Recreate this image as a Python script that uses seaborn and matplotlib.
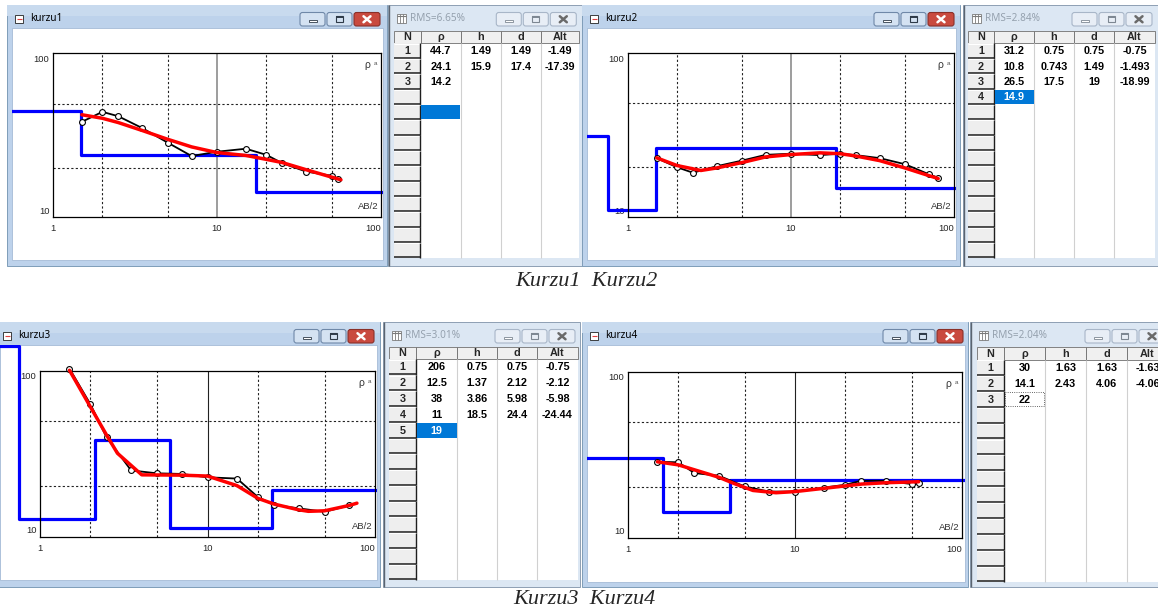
import numpy as np
import pandas as pd
import matplotlib.pyplot as plt
import seaborn as sns
from matplotlib.patches import Rectangle, FancyBboxPatch
from matplotlib.transforms import Bbox, TransformedBbox
from matplotlib.ticker import NullFormatter

# Kurzu1 : olculen (AB/2, rho_a), model egrisi ve katman parametreleri
k1_ab = [1.5, 2, 2.5, 3.5, 5, 7, 10, 15, 20, 25, 35, 50, 55]
k1_rho_a = [38.5, 44.4, 41.7, 35.2, 28.6, 23.6, 25.1, 26.2, 24.0, 21.3, 18.9, 17.8, 16.9]
k1_ab_fit = [1.5, 2, 2.5, 3.5, 5, 7, 10, 15, 20, 25, 35, 57]
k1_rho_fit = [42.6, 40.5, 38.1, 34.0, 30.0, 26.9, 24.8, 23.8, 22.5, 21.5, 19.4, 16.8]
k1_rho = [44.7, 24.1, 14.2]
k1_h = [1.49, 15.9]
k1_d = [1.49, 17.4]
k1_alt = [-1.49, -17.39]

# Kurzu2
k2_ab = [1.5, 2, 2.5, 3.5, 5, 7, 10, 15, 20, 25, 35, 50, 70, 80]
k2_rho_a = [22.8, 20.0, 18.5, 20.3, 22.0, 23.9, 24.3, 23.8, 24.3, 23.8, 22.8, 20.9, 18.1, 17.2]
k2_ab_fit = [1.5, 2, 2.8, 3.5, 5, 7, 10, 15, 20, 25, 35, 50, 80]
k2_rho_fit = [22.9, 20.5, 19.1, 19.8, 21.4, 23.2, 24.0, 24.6, 24.3, 23.5, 22.0, 19.8, 17.0]
k2_rho = [31.2, 10.8, 26.5, 14.9]
k2_h = [0.75, 0.743, 17.5]
k2_d = [0.75, 1.49, 19]
k2_alt = [-0.75, -1.493, -18.99]

# Kurzu3
k3_ab = [1.5, 2, 2.5, 3.5, 5, 7, 10, 15, 20, 25, 35, 50, 70]
k3_rho_a = [104.5, 63.2, 39.6, 24.9, 23.9, 23.7, 22.6, 22.2, 17.1, 15.3, 14.6, 13.9, 15.2]
k3_ab_fit = [1.5, 2, 2.5, 2.9, 4.05, 7, 10, 15, 20, 25, 35, 40, 50, 70, 78]
k3_rho_fit = [102, 60.9, 40.9, 31.7, 23.4, 23.3, 23.0, 20.1, 16.8, 15.5, 14.3, 14.0, 14.1, 15.2, 15.7]
k3_rho = [206, 12.5, 38, 11, 19]
k3_h = [0.75, 1.37, 3.86, 18.5]
k3_d = [0.75, 2.12, 5.98, 24.4]
k3_alt = [-0.75, -2.12, -5.98, -24.44]

# Kurzu4
k4_ab = [1.5, 2, 2.5, 3.5, 5, 7, 10, 15, 20, 25, 35, 50, 55]
k4_rho_a = [28.6, 28.4, 24.4, 23.5, 20.2, 18.8, 18.8, 19.9, 20.7, 21.9, 21.9, 20.9, 21.1]
k4_ab_fit = [1.5, 2, 3.5, 4.3, 5.6, 7.7, 10, 15, 25, 35, 55]
k4_rho_fit = [28.6, 27.4, 23.0, 21.1, 19.1, 18.5, 18.8, 19.7, 20.9, 21.3, 21.6]
k4_rho = [30, 14.1, 22]
k4_h = [1.63, 2.43]
k4_d = [1.63, 4.06]
k4_alt = [-1.63, -4.06]

names = ["kurzu1", "kurzu2", "kurzu3", "kurzu4"]
rms = ["6.65", "2.84", "3.01", "2.04"]
data = [
    (k1_ab, k1_rho_a, k1_ab_fit, k1_rho_fit, k1_rho, k1_h, k1_d, k1_alt),
    (k2_ab, k2_rho_a, k2_ab_fit, k2_rho_fit, k2_rho, k2_h, k2_d, k2_alt),
    (k3_ab, k3_rho_a, k3_ab_fit, k3_rho_fit, k3_rho, k3_h, k3_d, k3_alt),
    (k4_ab, k4_rho_a, k4_ab_fit, k4_rho_fit, k4_rho, k4_h, k4_d, k4_alt),
]
captions = ["Kurzu1  Kurzu2", "Kurzu3  Kurzu4"]

# pencere yerlesimi (piksel)
layout = [
    dict(win=(7, 5, 387, 266), client=(11.7, 28.3, 383, 260), ax=(53, 53, 381, 217),
         ylim=(9.87, 103), btn=380, tab=(388, 5, 583, 266),
         cols=[394, 420.7, 460.7, 500.7, 540.7, 579.3], head=30.7, tbot=258, sel=(4, "fill")),
    dict(win=(582, 5, 960, 266), client=(587, 28.3, 956, 260), ax=(628, 53, 954, 217),
         ylim=(9.8, 103), btn=954, tab=(963, 5, 1162, 266),
         cols=[968, 994, 1034, 1074, 1114, 1155], head=30.7, tbot=258, sel=(3, "fill")),
    dict(win=(-5, 322, 380, 587), client=(0, 345, 377, 580), ax=(40, 371, 375, 537),
         ylim=(9.75, 101), btn=374, tab=(383, 322, 580, 587),
         cols=[389, 416, 457, 497, 537, 578], head=346.7, tbot=580, sel=(4, "fill")),
    dict(win=(582, 322, 968, 587), client=(587, 345, 965, 582), ax=(628, 372, 962, 538),
         ylim=(9.78, 101.3), btn=963, tab=(970, 322, 1170, 587),
         cols=[977, 1004, 1045, 1086, 1127, 1168], head=347, tbot=582, sel=(2, "focus")),
]

sns.set_style("white")
plt.rcParams["font.family"] = ["Liberation Sans", "DejaVu Sans"]

W, H = 1158, 613
fig = plt.figure(figsize=(W / 100, H / 100), dpi=100)
bg = fig.add_axes([0, 0, 1, 1])
bg.set_xlim(0, W)
bg.set_ylim(H, 0)
bg.axis("off")


def px_axes(x0, y0, x1, y1):
    return fig.add_axes([x0 / W, 1 - y1 / H, (x1 - x0) / W, (y1 - y0) / H])


def box(x0, y0, x1, y1, fc, ec="none", lw=0.0, z=1, ls="-"):
    bg.add_patch(Rectangle((x0, y0), x1 - x0, y1 - y0, facecolor=fc, edgecolor=ec,
                           linewidth=lw, linestyle=ls, zorder=z))


def hline(x0, x1, y, color, lw=1.0, z=3):
    bg.plot([x0, x1], [y, y], color=color, lw=lw, zorder=z, solid_capstyle="butt")


def vline(x, y0, y1, color, lw=1.0, z=3):
    bg.plot([x, x], [y0, y1], color=color, lw=lw, zorder=z, solid_capstyle="butt")


def buttons(xr, ytop, active):
    y0, y1 = ytop + 7.5, ytop + 21
    for kind, bx0, bx1 in [("min", xr - 80, xr - 55), ("max", xr - 53, xr - 28), ("close", xr - 26, xr)]:
        if active and kind == "close":
            fc, ec = "#C94A3F", "#8A3029"
        elif active:
            fc, ec = "#D4E2F2", "#6F88A8"
        else:
            fc, ec = "#E8EEF6", "#A8B6C8"
        bg.add_patch(FancyBboxPatch((bx0, y0), bx1 - bx0, y1 - y0,
                                    boxstyle="round,pad=0,rounding_size=2.5",
                                    facecolor=fc, edgecolor=ec, linewidth=0.8, zorder=3))
        cx, cy = (bx0 + bx1) / 2, (y0 + y1) / 2
        ic = "#2E3A48" if active else "#7D8792"
        if kind == "min":
            box(cx - 4, cy + 0.5, cx + 4, cy + 3, "white", ec=ic, lw=0.6, z=4)
        elif kind == "max":
            box(cx - 3.5, cy - 3, cx + 3.5, cy + 3, "none", ec=ic, lw=0.8, z=4)
            hline(cx - 3.5, cx + 3.5, cy - 2.3, ic, lw=1.4, z=4)
        else:
            xc = "white" if active else "#6A6A6A"
            bg.plot([cx - 3.5, cx + 3.5], [cy - 3, cy + 3], color=xc, lw=1.8, zorder=4)
            bg.plot([cx - 3.5, cx + 3.5], [cy + 3, cy - 3], color=xc, lw=1.8, zorder=4)


def plot_window(L, title):
    x0, y0, x1, y1 = L["win"]
    box(x0, y0, x1, y1, "#BDD2EB", ec="#7F9DB9", lw=0.7, z=1)
    box(x0, y0, x1, y0 + 11, "#C8DAEE", z=1.1)
    cx0, cy0, cx1, cy1 = L["client"]
    box(cx0, cy0, cx1, cy1, "white", ec="#A5BBD6", lw=0.6, z=1.2)
    ix, iy = x0 + 8, y0 + 10
    box(ix, iy, ix + 8, iy + 8, "white", ec="#222222", lw=0.6, z=2)
    hline(ix + 1.5, ix + 6.5, iy + 3.5, "#E04040", lw=0.8)
    bg.text(x0 + 23, y0 + 13.5, title, ha="left", va="center", fontsize=7.2,
            family="Noto Sans", color="black", zorder=3)
    buttons(L["btn"], y0, True)


def table_window(L, rms_txt, rho, h, d, alt):
    x0, y0, x1, y1 = L["tab"]
    box(x0, y0, x1, y1, "#DCE7F3", ec="#8E9FB3", lw=0.7, z=1)
    vline(x0 + 0.5, y0, y1, "#5A6470", lw=1.0, z=1.5)
    ix, iy = x0 + 9, y0 + 9
    box(ix, iy, ix + 9, iy + 9, "white", ec="#7A7A7A", lw=0.6, z=2)
    for gx in (ix + 3, ix + 6):
        vline(gx, iy, iy + 9, "#7A7A7A", lw=0.6)
    hline(ix, ix + 9, iy + 2, "#7A7A7A", lw=0.8)
    bg.text(x0 + 22, y0 + 13.5, f"RMS={rms_txt}%", ha="left", va="center", fontsize=7.2,
            family="Noto Sans", color="#95A1AE", zorder=3)
    buttons(L["cols"][-1] - 3, y0, False)

    c, top, bot = L["cols"], L["head"], L["tbot"]
    hb = top + 12.6
    rh = (bot - hb) / 14
    box(c[0], top, c[-1], bot, "white", z=2)
    heads = ["N", "ρ", "h", "d", "Alt"]
    for i in range(5):
        box(c[i], top, c[i + 1], hb, "#F0F0F0", ec="#6E6E6E", lw=0.6, z=2.2)
        bg.text((c[i] + c[i + 1]) / 2, (top + hb) / 2 + 0.5, heads[i], ha="center", va="center",
                fontsize=7.8, fontweight="bold", zorder=4)
    for x in c[2:-1]:
        vline(x, hb, bot, "#D0D0D0", lw=0.8, z=2.3)
    cols_vals = [rho, h, d, alt]
    sel_row, sel_kind = L["sel"]
    for r in range(14):
        ry0, ry1 = hb + r * rh, hb + (r + 1) * rh
        box(c[0], ry0, c[1], ry1, "#EEEEEE", z=2.2)
        hline(c[0], c[1], ry0 + 0.5, "white", lw=0.8, z=2.4)
        hline(c[0], c[1], ry1 - 0.6, "#1E1E1E", lw=1.1, z=2.4)
        vline(c[1] - 0.5, ry0, ry1, "#1E1E1E", lw=1.0, z=2.4)
        ym = (ry0 + ry1) / 2 + 0.3
        if r < len(rho):
            bg.text((c[0] + c[1]) / 2, ym, str(r + 1), ha="center", va="center",
                    fontsize=7.8, fontweight="bold", zorder=4)
        txt_col = "black"
        if r == sel_row:
            if sel_kind == "fill":
                box(c[1] + 0.5, ry0 + 0.5, c[2] - 0.5, ry1 - 0.5, "#0078D7", z=2.5)
                txt_col = "white"
            else:
                box(c[1] + 0.8, ry0 + 0.8, c[2] - 0.8, ry1 - 0.8, "none", ec="#333333",
                    lw=0.6, z=2.5, ls=":")
        for j, vals in enumerate(cols_vals):
            if r < len(vals):
                bg.text((c[j + 1] + c[j + 2]) / 2, ym, f"{vals[r]:g}", ha="center", va="center",
                        fontsize=7.8, fontweight="bold", color=txt_col if j == 0 else "black",
                        zorder=4)


for k in range(4):
    L = layout[k]
    ab, rho_a, ab_fit, rho_fit, rho, h, d, alt = data[k]
    plot_window(L, names[k])
    table_window(L, rms[k], rho, h, d, alt)

    ax = px_axes(*L["ax"])
    ax.set_facecolor("white")
    ax.set_xscale("log")
    ax.set_yscale("log")
    ax.set_xlim(1, 100)
    ax.set_ylim(*L["ylim"])

    # izgara
    ten_col = "#8C8C8C" if k < 2 else "#222222"
    for gx in [2, 5, 20, 50]:
        ax.axvline(gx, color="#222222", lw=0.8, ls=(0, (2, 2)), zorder=1)
    ax.axvline(10, color=ten_col, lw=1.2 if k < 2 else 0.8, zorder=1)
    for gy in [20, 50]:
        ax.axhline(gy, color="#222222", lw=0.8, ls=(0, (2, 2)), zorder=1)

    # pencere alanina kirpma
    cx0, cy0, cx1, cy1 = L["client"]
    clip = TransformedBbox(Bbox.from_extents(cx0 / W, 1 - cy1 / H, cx1 / W, 1 - cy0 / H), fig.transFigure)
    ytop = ax.transData.inverted().transform((0, H - cy0))[1]

    step_x = [0.01] + list(d) + [1e4]
    step_y = [min(v, ytop * 0.985) for v in list(rho) + [rho[-1]]]
    n0 = len(ax.lines)
    sns.lineplot(x=step_x, y=step_y, ax=ax, color="#0000FF", lw=2.3, drawstyle="steps-post",
                 estimator=None, sort=False, zorder=2)
    sns.lineplot(x=ab, y=rho_a, ax=ax, color="black", lw=1.3, marker="o", markersize=4.2,
                 markerfacecolor="white", markeredgecolor="black", markeredgewidth=0.8,
                 estimator=None, sort=False, zorder=3)
    sns.lineplot(x=ab_fit, y=rho_fit, ax=ax, color="#FF0000", lw=2.5, estimator=None,
                 sort=False, zorder=4)
    for ln in ax.lines[n0:]:
        ln.set_clip_path(None)
        ln.set_clip_box(clip)

    ax.set_xlabel("")
    ax.set_ylabel("")
    ax.set_xticks([1, 10, 100], ["1", "10", "100"])
    ax.set_xticks([3, 4, 6, 7, 8, 9, 30, 40, 60, 70, 80, 90], minor=True)
    ax.set_yticks([10, 100], ["10", "100"])
    ax.set_yticks([30, 40, 60, 70, 80, 90], minor=True)
    ax.xaxis.set_minor_formatter(NullFormatter())
    ax.yaxis.set_minor_formatter(NullFormatter())
    ax.set_xlim(1, 100)
    ax.set_ylim(*L["ylim"])
    ax.tick_params(which="both", direction="in", labelsize=6.8, pad=2.5, top=False, right=False,
                   color="#222222")
    ax.tick_params(axis="x", which="major", length=0, pad=5)
    ax.tick_params(axis="y", which="major", length=4)
    ax.tick_params(which="minor", length=4, width=0.8)
    ax.xaxis.get_major_ticks()[2].label1.set_horizontalalignment("right")
    ax.yaxis.get_major_ticks()[0].label1.set_verticalalignment("bottom")
    ax.yaxis.get_major_ticks()[1].label1.set_verticalalignment("top")
    for sp in ax.spines.values():
        sp.set_color("black")
        sp.set_linewidth(0.9)

    ax.text(0.958, 0.925, "ρ", transform=ax.transAxes, ha="center", va="center", fontsize=7.5,
            color="#333333")
    ax.text(0.984, 0.935, "a", transform=ax.transAxes, ha="center", va="center", fontsize=4.5,
            color="#555555")
    ax.text(0.994, 0.065, "AB/2", transform=ax.transAxes, ha="right", va="center", fontsize=6.8,
            color="#333333")

bg.text(586, 282, captions[0], ha="center", va="center", fontsize=16, family="Liberation Serif",
        style="italic")
bg.text(584, 600, captions[1], ha="center", va="center", fontsize=16, family="Liberation Serif",
        style="italic")

fig.savefig("out.png", dpi=100)
